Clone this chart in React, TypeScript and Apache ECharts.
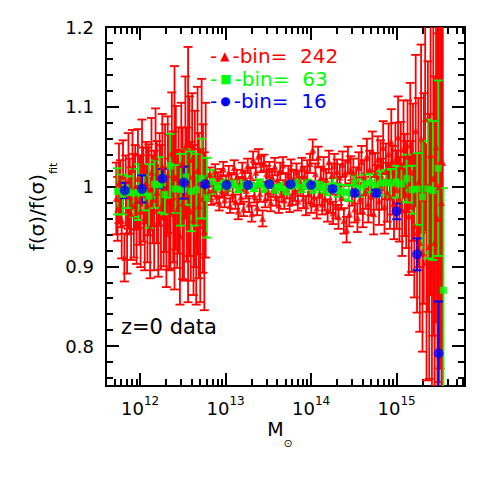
import React, { useEffect, useRef } from 'react';
import * as echarts from 'echarts';

// ---- axes (x is log10 of halo mass in solar masses) ----
const X_MIN = 11.6;
const X_MAX = 15.8;
const Y_MIN = 0.75;
const Y_MAX = 1.2;
const X_MAJOR_EXP = [12, 13, 14, 15];
const X_MINOR_MANTISSA = [2, 3, 4, 5, 6, 7, 8, 9];
const X_MINOR_DECADES = [11, 12, 13, 14, 15];
const Y_MAJOR = [0.8, 0.9, 1.0, 1.1, 1.2];
const Y_MINOR = [0.76, 0.78, 0.82, 0.84, 0.86, 0.88, 0.92, 0.94, 0.96, 0.98, 1.02, 1.04, 1.06, 1.08, 1.12, 1.14, 1.16, 1.18];

// ---- bin = 16 (blue circles) ----
const BLUE_LOGM = [11.82, 12.02, 12.26, 12.51, 12.76, 13.01, 13.26, 13.51, 13.76, 14.0, 14.25, 14.51, 14.76, 15.0, 15.24, 15.49];
const BLUE_Y = [0.995, 0.997, 1.010, 1.005, 1.003, 1.002, 1.002, 1.003, 1.003, 1.002, 0.997, 0.992, 0.992, 0.969, 0.915, 0.791];
const BLUE_ERR = [0.0095, 0.017, 0.012, 0.02, 0.003, 0.002, 0.002, 0.002, 0.002, 0.002, 0.003, 0.003, 0.004, 0.01, 0.02, 0.065];

// ---- bin = 63 (green squares) ----
const GREEN_LOGM = [
  11.735, 11.797, 11.858, 11.920, 11.981, 12.043, 12.104, 12.166, 12.227, 12.289,
  12.350, 12.412, 12.473, 12.535, 12.596, 12.658, 12.719, 12.781, 12.842, 12.904,
  12.965, 13.027, 13.088, 13.150, 13.211, 13.273, 13.334, 13.396, 13.457, 13.519,
  13.580, 13.642, 13.703, 13.765, 13.826, 13.888, 13.949, 14.011, 14.072, 14.134,
  14.195, 14.257, 14.318, 14.380, 14.441, 14.503, 14.564, 14.626, 14.687, 14.749,
  14.810, 14.872, 14.933, 14.995, 15.056, 15.118, 15.179, 15.241, 15.302, 15.364,
  15.425, 15.487, 15.548,
];
const GREEN_Y = [
  0.994, 0.990, 0.993, 0.992, 0.993, 0.992, 0.988, 1.003, 1.002, 0.990,
  1.026, 0.997, 0.996, 1.012, 0.994, 0.996, 1.010, 0.986, 1.006, 0.999,
  1.003, 1.000, 1.004, 0.998, 1.003, 1.001, 0.999, 1.004, 0.998, 1.003,
  0.997, 1.000, 0.995, 1.002, 1.004, 0.999, 1.003, 0.998, 1.001, 0.999,
  0.996, 1.002, 0.995, 0.993, 0.992, 1.004, 0.998, 1.003, 1.005, 1.001,
  1.004, 1.005, 1.004, 1.006, 1.003, 1.010, 0.996, 0.997, 0.987, 0.997,
  0.995, 1.023, 0.870,
];
const GREEN_ERR = [
  0.029, 0.025, 0.020, 0.030, 0.035, 0.022, 0.040, 0.030, 0.035, 0.025,
  0.040, 0.030, 0.045, 0.035, 0.050, 0.045, 0.050, 0.050, 0.015, 0.006,
  0.006, 0.006, 0.005, 0.005, 0.005, 0.004, 0.005, 0.005, 0.005, 0.005,
  0.005, 0.005, 0.005, 0.005, 0.005, 0.006, 0.006, 0.006, 0.006, 0.007,
  0.007, 0.008, 0.008, 0.009, 0.010, 0.010, 0.011, 0.012, 0.012, 0.014,
  0.015, 0.016, 0.018, 0.020, 0.022, 0.030, 0.030, 0.045, 0.070, 0.087,
  0.087, 0.110, 0.128,
];

// ---- bin = 242 (red triangles): 242 log-spaced bins ----
const RED_BINS = 242;
const RED_LOGM_FIRST = 11.72;
const RED_LOGM_LAST = 15.54;
const RED_Y = [
  // 11.72 - 12.77
  0.985, 0.972, 1.004, 0.991, 0.958, 1.012, 0.911, 0.995, 0.943, 1.007,
  0.988, 0.966, 1.021, 0.976, 0.999, 0.952, 1.010, 0.983, 0.969, 1.030,
  0.990, 0.961, 1.005, 0.977, 0.996, 0.948, 1.018, 0.984, 0.970, 1.037,
  0.993, 0.957, 1.009, 0.974, 1.025, 0.962, 0.998, 0.941, 1.015, 0.980,
  0.966, 1.042, 0.987, 1.011, 1.011, 0.972, 0.995, 0.938, 1.028, 0.979,
  0.963, 1.050, 0.990, 1.015, 1.013, 0.969, 1.034, 0.958, 0.997, 0.932,
  1.020, 0.976, 0.951, 1.045, 0.985, 0.944, 1.008,
  // 12.78 - 14.46
  1.008, 0.992, 1.015, 0.985, 1.004, 0.996, 1.019, 0.988, 1.010, 0.979,
  1.013, 0.994, 1.022, 0.983, 1.006, 0.998, 1.017, 0.976, 1.009, 0.990,
  1.024, 0.981, 1.012, 0.969, 1.003, 0.987, 1.020, 0.972, 1.011, 0.995,
  1.026, 0.978, 1.014, 0.966, 1.034, 0.989, 1.018, 0.974, 1.038, 0.991,
  1.028, 0.960, 1.030, 0.984, 1.016, 0.993, 1.021, 0.980, 1.012, 0.997,
  1.025, 0.986, 1.008, 0.977, 1.019, 0.992, 1.027, 0.983, 1.005, 0.996,
  1.015, 0.979, 1.022, 0.988, 1.010, 0.994, 1.018, 0.982, 1.007, 0.999,
  1.024, 0.985, 1.013, 0.976, 1.020, 0.991, 1.029, 0.980, 1.046, 0.987,
  1.016, 0.973, 1.037, 0.990, 1.011, 0.978, 1.023, 0.984, 1.009, 0.970,
  1.031, 0.981, 1.014, 0.967, 1.026, 0.975, 1.019, 0.962, 1.012, 0.986,
  1.028, 0.957, 1.017, 0.946, 1.033, 0.966, 1.021,
  // 14.48 - 15.54
  0.992, 1.018, 0.972, 1.006, 0.961, 1.024, 0.985, 1.031, 0.969, 1.012,
  0.994, 1.038, 0.978, 1.021, 0.988, 1.044, 0.966, 1.015, 0.999, 1.034,
  0.982, 1.027, 1.003, 1.049, 0.975, 1.019, 0.993, 1.041, 0.987, 1.056,
  1.008, 0.979, 1.033, 0.996, 1.062, 0.984, 1.025, 0.971, 1.047, 1.002,
  0.990, 1.038, 0.963, 1.052, 0.975, 1.018, 0.951, 1.070, 0.942, 1.005,
  0.930, 1.060, 0.918, 0.985, 1.085, 0.905, 1.000, 0.925, 1.040, 0.895,
  1.010, 0.930, 1.050, 0.960, 1.000, 1.030, 0.980, 1.030,
];
const RED_ERR = [
  0.045, 0.040, 0.050, 0.042, 0.048, 0.046, 0.030, 0.044, 0.052, 0.060,
  0.047, 0.058, 0.050, 0.065, 0.053, 0.049, 0.062, 0.056, 0.070, 0.054,
  0.059, 0.066, 0.051, 0.072, 0.057, 0.063, 0.068, 0.055, 0.075, 0.061,
  0.064, 0.070, 0.058, 0.078, 0.066, 0.062, 0.080, 0.067, 0.073, 0.085,
  0.069, 0.076, 0.082, 0.140, 0.090, 0.074, 0.079, 0.086, 0.077, 0.095,
  0.081, 0.088, 0.084, 0.160, 0.100, 0.087, 0.083, 0.094, 0.098, 0.080,
  0.105, 0.091, 0.096, 0.090, 0.093, 0.099, 0.097,
  0.008, 0.008, 0.009, 0.008, 0.009, 0.008, 0.009, 0.009, 0.008, 0.009,
  0.009, 0.008, 0.009, 0.009, 0.008, 0.009, 0.009, 0.009, 0.008, 0.009,
  0.009, 0.009, 0.009, 0.010, 0.009, 0.009, 0.010, 0.009, 0.009, 0.010,
  0.009, 0.010, 0.009, 0.010, 0.010, 0.009, 0.010, 0.010, 0.009, 0.010,
  0.010, 0.010, 0.010, 0.010, 0.010, 0.010, 0.010, 0.011, 0.010, 0.010,
  0.011, 0.010, 0.011, 0.010, 0.011, 0.011, 0.010, 0.011, 0.011, 0.011,
  0.011, 0.011, 0.012, 0.011, 0.011, 0.012, 0.011, 0.012, 0.012, 0.011,
  0.012, 0.012, 0.012, 0.012, 0.013, 0.012, 0.012, 0.013, 0.013, 0.012,
  0.013, 0.013, 0.013, 0.013, 0.014, 0.013, 0.014, 0.014, 0.013, 0.014,
  0.014, 0.014, 0.015, 0.014, 0.015, 0.015, 0.015, 0.015, 0.016, 0.015,
  0.016, 0.016, 0.016, 0.016, 0.017, 0.016, 0.017,
  0.016, 0.017, 0.017, 0.018, 0.018, 0.019, 0.019, 0.020, 0.020, 0.021,
  0.022, 0.022, 0.023, 0.024, 0.024, 0.025, 0.026, 0.027, 0.028, 0.029,
  0.030, 0.031, 0.032, 0.033, 0.034, 0.035, 0.037, 0.038, 0.040, 0.041,
  0.043, 0.045, 0.047, 0.049, 0.051, 0.053, 0.056, 0.058, 0.061, 0.064,
  0.067, 0.070, 0.074, 0.078, 0.082, 0.086, 0.090, 0.095, 0.100, 0.106,
  0.112, 0.118, 0.125, 0.132, 0.140, 0.148, 0.157, 0.166, 0.176, 0.186,
  0.197, 0.208, 0.220, 0.232, 0.245, 0.258, 0.272, 0.286,
];

const LEGEND = [
  { sym: '▲', label: 'bin=  242', color: '#ff0000' },
  { sym: '■', label: 'bin=  63', color: '#00ff00' },
  { sym: '●', label: 'bin=  16', color: '#0000ff' },
];

const RED = '#ff0000';
const GREEN = '#00ff00';
const BLUE = '#0000ff';
const FONT = 'DejaVu Sans';

function errorBarRender(color: string, lw: number, capHalf: number) {
  return (params: any, api: any) => {
    const x = api.value(0);
    const y = api.value(1);
    const e = api.value(2);
    const top = api.coord([x, y + e]);
    const bot = api.coord([x, y - e]);
    const cs = params.coordSys;
    const yLo = cs.y;
    const yHi = cs.y + cs.height;
    const px = top[0];
    const y1 = Math.max(top[1], yLo);
    const y2 = Math.min(bot[1], yHi);
    const children: any[] = [];
    if (y2 > y1) {
      children.push({ type: 'line', shape: { x1: px, y1, x2: px, y2 }, style: { stroke: color, lineWidth: lw } });
    }
    if (top[1] >= yLo && top[1] <= yHi) {
      children.push({ type: 'line', shape: { x1: px - capHalf, y1: top[1], x2: px + capHalf, y2: top[1] }, style: { stroke: color, lineWidth: lw } });
    }
    if (bot[1] <= yHi && bot[1] >= yLo) {
      children.push({ type: 'line', shape: { x1: px - capHalf, y1: bot[1], x2: px + capHalf, y2: bot[1] }, style: { stroke: color, lineWidth: lw } });
    }
    return { type: 'group', children };
  };
}

export default function App() {
  const ref = useRef<HTMLDivElement>(null);

  useEffect(() => {
    if (!ref.current) return;
    const chart = echarts.init(ref.current, null, { renderer: 'svg' });

    const xMinor: number[] = [];
    X_MINOR_DECADES.forEach((d) => X_MINOR_MANTISSA.forEach((m) => {
      const v = d + Math.log10(m);
      if (v > X_MIN && v < X_MAX) xMinor.push(v);
    }));

    const redStep = (RED_LOGM_LAST - RED_LOGM_FIRST) / (RED_BINS - 1);
    const redData = RED_Y.map((y, i) => [RED_LOGM_FIRST + i * redStep, y, RED_ERR[i]]);
    const greenData = GREEN_Y.map((y, i) => [GREEN_LOGM[i], y, GREEN_ERR[i]]);
    const blueData = BLUE_Y.map((y, i) => [BLUE_LOGM[i], y, BLUE_ERR[i]]);

    const tickStyle = { color: '#000', width: 2 };
    const xAxis = (position: string, ticks: number[], len: number, labels: boolean) => ({
      type: 'value', gridIndex: 0, position, min: X_MIN, max: X_MAX,
      axisLine: { show: false, onZero: false },
      splitLine: { show: false },
      axisTick: { show: true, inside: true, length: len, customValues: ticks, lineStyle: tickStyle },
      axisLabel: labels
        ? {
            show: true, customValues: ticks, margin: 9,
            formatter: (v: number) => `{a|10}{b|${Math.round(v)}}`,
            rich: {
              a: { fontFamily: FONT, fontSize: 18, color: '#000', lineHeight: 22, verticalAlign: 'bottom' },
              b: { fontFamily: FONT, fontSize: 12, color: '#000', lineHeight: 15, verticalAlign: 'top' },
            },
          }
        : { show: false },
    });
    const yAxis = (position: string, ticks: number[], len: number, labels: boolean) => ({
      type: 'value', gridIndex: 0, position, min: Y_MIN, max: Y_MAX,
      axisLine: { show: false, onZero: false },
      splitLine: { show: false },
      axisTick: { show: true, inside: true, length: len, customValues: ticks, lineStyle: tickStyle },
      axisLabel: labels
        ? {
            show: true, customValues: ticks, margin: 12,
            fontFamily: FONT, fontSize: 18, color: '#000',
            formatter: (v: number) => (Math.abs(v - 1) < 1e-9 ? '1' : v.toFixed(1)),
          }
        : { show: false },
    });

    const option: any = {
      animation: false,
      grid: { left: 106, right: 26, top: 27, bottom: 105, show: true, borderColor: '#000', borderWidth: 2, backgroundColor: 'transparent' },
      xAxis: [
        xAxis('bottom', X_MAJOR_EXP, 13, true),
        xAxis('bottom', xMinor, 7, false),
        xAxis('top', X_MAJOR_EXP, 13, false),
        xAxis('top', xMinor, 7, false),
      ],
      yAxis: [
        yAxis('left', Y_MAJOR, 13, true),
        yAxis('left', Y_MINOR, 7, false),
        yAxis('right', Y_MAJOR, 13, false),
        yAxis('right', Y_MINOR, 7, false),
      ],
      series: [
        { type: 'custom', name: 'red-err', data: redData, renderItem: errorBarRender(RED, 1.8, 4.5), encode: { x: 0, y: 1 }, silent: true },
        { type: 'scatter', name: 'bin=242', data: redData.map((d) => [d[0], d[1]]), symbol: 'triangle', symbolSize: 7, itemStyle: { color: RED }, silent: true },
        { type: 'custom', name: 'green-err', data: greenData, renderItem: errorBarRender(GREEN, 1.8, 4.5), encode: { x: 0, y: 1 }, silent: true },
        { type: 'scatter', name: 'bin=63', data: greenData.map((d) => [d[0], d[1]]), symbol: 'rect', symbolSize: 7, itemStyle: { color: GREEN }, silent: true },
        { type: 'custom', name: 'blue-err', data: blueData, renderItem: errorBarRender(BLUE, 2, 4.5), encode: { x: 0, y: 1 }, silent: true },
        { type: 'scatter', name: 'bin=16', data: blueData.map((d) => [d[0], d[1]]), symbol: 'circle', symbolSize: 10, itemStyle: { color: BLUE }, silent: true },
      ],
      graphic: [
        ...LEGEND.map((l, i) => ({
          type: 'text', left: 210, top: 46 + i * 22.5, z: 100,
          style: {
            text: `{d|-}{m|${l.sym}}{d|-${l.label}}`,
            rich: {
              d: { fontFamily: FONT, fontSize: 20, fill: l.color, lineHeight: 22 },
              m: { fontFamily: FONT, fontSize: 12, fill: l.color, lineHeight: 22, padding: [0, 3, 0, 3] },
            },
          },
        })),
        {
          type: 'text', left: 121, top: 316, z: 100,
          style: { text: 'z=0 data', fontFamily: FONT, fontSize: 21, fill: '#000' },
        },
        {
          type: 'text', x: 280, y: 434, z: 100,
          style: {
            text: '{a|M}{b|⊙}', align: 'center', verticalAlign: 'middle',
            rich: {
              a: { fontFamily: FONT, fontSize: 19, fill: '#000', lineHeight: 20, verticalAlign: 'top' },
              b: { fontFamily: FONT, fontSize: 11, fill: '#000', lineHeight: 30, verticalAlign: 'bottom' },
            },
          },
        },
        {
          type: 'text', x: 43, y: 207, rotation: Math.PI / 2, z: 100,
          style: {
            text: '{a|f(σ)/f(σ)}{b|fit}', align: 'center', verticalAlign: 'middle',
            rich: {
              a: { fontFamily: FONT, fontSize: 20, fill: '#000', lineHeight: 20, verticalAlign: 'top' },
              b: { fontFamily: FONT, fontSize: 11, fill: '#000', lineHeight: 32, verticalAlign: 'bottom' },
            },
          },
        },
      ],
    };

    chart.setOption(option);
    return () => chart.dispose();
  }, []);

  return <div ref={ref} style={{ width: 491, height: 491, position: 'absolute', left: 0, top: 0 }} />;
}
